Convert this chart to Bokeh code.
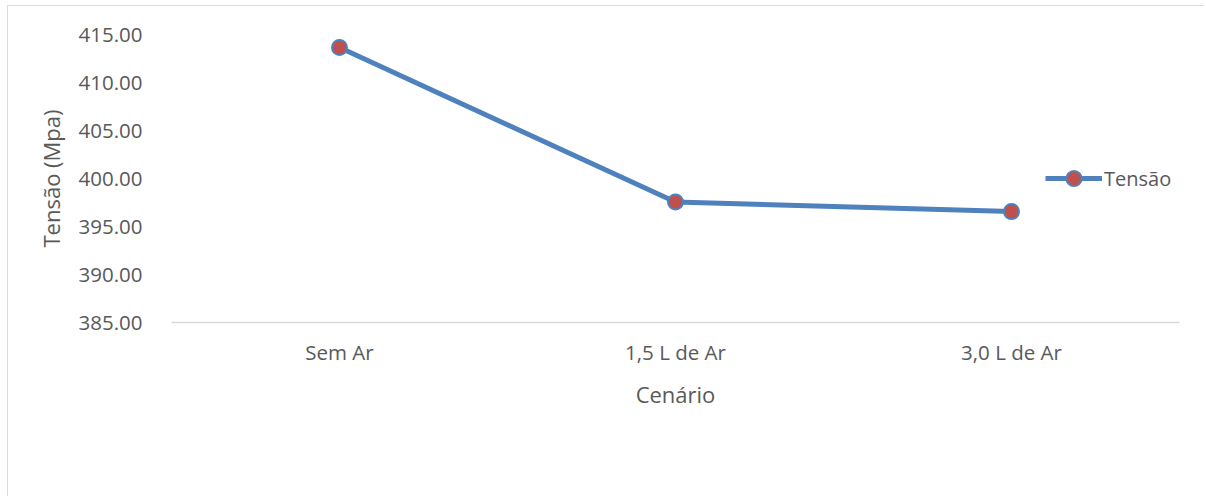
from bokeh.plotting import figure
from bokeh.models import Range1d, FactorRange, NumeralTickFormatter
from bokeh.embed import file_html
from bokeh.resources import INLINE

categories = ["Sem Ar", "1,5 L de Ar", "3,0 L de Ar"]
tensao = [413.65, 397.55, 396.55]
y_ticks = [385, 390, 395, 400, 405, 410, 415]

FONT = "Open Sans"
TXT = "#595959"

p = figure(width=1197, height=491, output_backend="svg", toolbar_location=None,
           x_range=FactorRange(*categories), y_range=Range1d(385, 415),
           min_border_left=163, min_border_right=26, min_border_top=28, min_border_bottom=175,
           margin=(5, 0, 0, 7))
p.styles = {"border-top": "1px solid #d9d9d9", "border-left": "1px solid #d9d9d9"}
p.outline_line_alpha = 0
p.xgrid.grid_line_alpha = 0
p.ygrid.grid_line_alpha = 0

r_line = p.line(categories, tensao, line_color="#4f81bd", line_width=5, legend_label="Tensão")
r_pts = p.scatter(categories, tensao, size=15, fill_color="#c0504d", line_color="#4f81bd",
                  line_width=2, legend_label="Tensão")

p.yaxis.ticker = y_ticks
p.yaxis.formatter = NumeralTickFormatter(format="0.00")
p.yaxis.axis_line_alpha = 0
p.yaxis.major_tick_line_alpha = 0
p.yaxis.minor_tick_line_alpha = 0
p.yaxis.major_label_standoff = 23
p.yaxis.axis_label = "Tensão (Mpa)"
p.yaxis.axis_label_standoff = 10

p.xaxis.axis_line_color = "#d9d9d9"
p.xaxis.axis_line_width = 1.5
p.xaxis.major_tick_line_alpha = 0
p.xaxis.minor_tick_line_alpha = 0
p.xaxis.major_label_standoff = 9
p.xaxis.axis_label = "Cenário"
p.xaxis.axis_label_standoff = 10

for ax in (p.xaxis, p.yaxis):
    ax.major_label_text_font = FONT
    ax.major_label_text_font_size = "20.5px"
    ax.major_label_text_color = TXT
    ax.axis_label_text_font = FONT
    ax.axis_label_text_font_size = "22px"
    ax.axis_label_text_font_style = "normal"
    ax.axis_label_text_color = TXT

leg = p.legend[0]
leg.location = (874, 125)
leg.padding = 0
leg.margin = 0
leg.border_line_alpha = 0
leg.background_fill_alpha = 0
leg.glyph_width = 57
leg.glyph_height = 38
leg.label_standoff = 2
leg.label_text_font = FONT
leg.label_text_font_size = "20px"
leg.label_text_color = TXT

open("out.html", "w").write(file_html(p, INLINE))
